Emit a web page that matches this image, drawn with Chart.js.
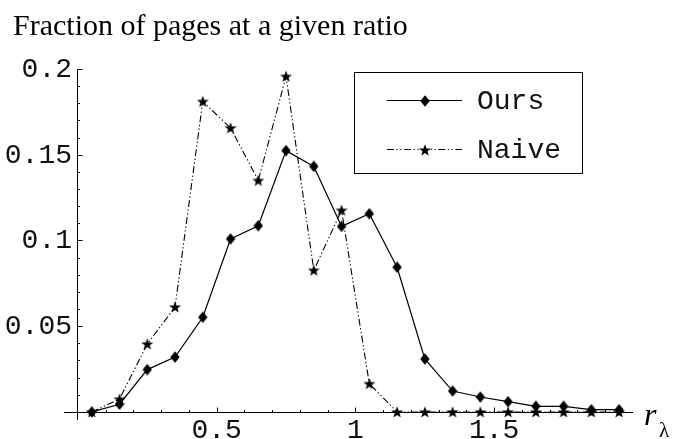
<!DOCTYPE html>
<html>
<head>
<meta charset="utf-8">
<script src="https://cdn.jsdelivr.net/npm/chart.js@4.4.1/dist/chart.umd.min.js"></script>
<style>
  html, body { margin: 0; padding: 0; background: #fff; }
  canvas { display: block; }
</style>
</head>
<body>
<canvas id="chart" width="673" height="439"></canvas>
<script>
// Ratio bins (bin centres) and fraction of pages in each bin
const ratios = [0.05, 0.15, 0.25, 0.35, 0.45, 0.55, 0.65, 0.75, 0.85, 0.95,
                1.05, 1.15, 1.25, 1.35, 1.45, 1.55, 1.65, 1.75, 1.85, 1.95];
const ours   = [0.000, 0.0045, 0.0247, 0.0320, 0.0552, 0.1009, 0.1086, 0.1524, 0.1432, 0.1082,
                0.1156, 0.0844, 0.0309, 0.0122, 0.0087, 0.0060, 0.0033, 0.0033, 0.0013, 0.0013];
const naive  = [0.000, 0.0075, 0.0396, 0.0612, 0.1811, 0.1656, 0.1350, 0.1957, 0.0826, 0.1176,
                0.0165, 0.000, 0.000, 0.000, 0.000, 0.000, 0.000, 0.000, 0.000, 0.000];
const seriesNames = ['Ours', 'Naive'];

// Axis ticks
const xMajorTicks  = [0.5, 1, 1.5];
const xTickLabels  = ['0.5', '1', '1.5'];
const xMinorTicks  = [0.1, 0.2, 0.3, 0.4, 0.6, 0.7, 0.8, 0.9, 1.1, 1.2, 1.3, 1.4, 1.6, 1.7, 1.8, 1.9];
const yMajorTicks  = [0.05, 0.1, 0.15, 0.2];
const yTickLabels  = ['0.05', '0.1', '0.15', '0.2'];
const yMinorTicks  = [0.01, 0.02, 0.03, 0.04, 0.06, 0.07, 0.08, 0.09, 0.11, 0.12, 0.13, 0.14,
                      0.16, 0.17, 0.18, 0.19];

const titleText = 'Fraction of pages at a given ratio';

const MONO = '"Liberation Mono", "Courier New", monospace';
const SERIF = '"Liberation Serif", "Times New Roman", serif';

// Filled diamond marker
function makeDiamond() {
  const c = document.createElement('canvas');
  c.width = 10; c.height = 12;
  const g = c.getContext('2d');
  g.fillStyle = '#000';
  g.beginPath();
  g.moveTo(5, 0.3); g.lineTo(9.7, 6); g.lineTo(5, 11.7); g.lineTo(0.3, 6);
  g.closePath(); g.fill();
  return c;
}
// Filled five-pointed star marker
function makeStar() {
  const c = document.createElement('canvas');
  c.width = 14; c.height = 14;
  const g = c.getContext('2d');
  g.fillStyle = '#000';
  g.beginPath();
  const cx = 7, cy = 7.5, ro = 6.3, ri = 2.6;
  for (let i = 0; i < 10; i++) {
    const r = i % 2 === 0 ? ro : ri;
    const a = -Math.PI / 2 + i * Math.PI / 5;
    const px = cx + r * Math.cos(a), py = cy + r * Math.sin(a);
    if (i === 0) g.moveTo(px, py); else g.lineTo(px, py);
  }
  g.closePath(); g.fill();
  return c;
}
const diamond = makeDiamond();
const star = makeStar();

// Axes crossing at the origin, with inward tick marks
const axesPlugin = {
  id: 'originAxes',
  beforeDatasetsDraw(chart) {
    const { ctx, chartArea: a, scales: { x, y } } = chart;
    const x0 = Math.round(x.getPixelForValue(0)) - 0.5;
    const y0 = Math.round(y.getPixelForValue(0)) + 0.5;
    ctx.save();
    ctx.strokeStyle = '#000';
    ctx.lineWidth = 1;
    ctx.beginPath();
    ctx.moveTo(a.left, y0); ctx.lineTo(a.right, y0);
    ctx.moveTo(x0, a.top); ctx.lineTo(x0, a.bottom);
    xMajorTicks.forEach(v => { const p = Math.round(x.getPixelForValue(v)) + 0.5; ctx.moveTo(p, y0); ctx.lineTo(p, y0 - 5); });
    xMinorTicks.forEach(v => { const p = Math.round(x.getPixelForValue(v)) + 0.5; ctx.moveTo(p, y0); ctx.lineTo(p, y0 - 2.5); });
    yMajorTicks.forEach(v => { const p = Math.round(y.getPixelForValue(v)) + 0.5; ctx.moveTo(x0, p); ctx.lineTo(x0 + 5, p); });
    yMinorTicks.forEach(v => { const p = Math.round(y.getPixelForValue(v)) + 0.5; ctx.moveTo(x0, p); ctx.lineTo(x0 + 2.5, p); });
    ctx.stroke();

    // tick labels
    ctx.fillStyle = '#111';
    ctx.font = '28px ' + MONO;
    ctx.textBaseline = 'alphabetic';
    ctx.textAlign = 'center';
    xMajorTicks.forEach((v, i) => ctx.fillText(xTickLabels[i], x.getPixelForValue(v), 438));
    ctx.textAlign = 'right';
    yMajorTicks.forEach((v, i) => ctx.fillText(yTickLabels[i], x0 - 5.5, y.getPixelForValue(v) + 8));
    ctx.restore();
  },
  afterDraw(chart) {
    const { ctx } = chart;
    ctx.save();
    ctx.fillStyle = '#000';

    // title
    ctx.font = '30px ' + SERIF;
    ctx.textAlign = 'left';
    ctx.textBaseline = 'alphabetic';
    ctx.fillText(titleText, 13, 35);

    // axis name r_λ
    ctx.font = 'italic 32px ' + SERIF;
    ctx.fillText('r', 644, 425);
    ctx.font = '21px ' + SERIF;
    ctx.fillText('λ', 659, 437);

    // legend box
    ctx.strokeStyle = '#000';
    ctx.lineWidth = 1;
    ctx.strokeRect(354.5, 72.5, 228, 101);
    const rows = [100.5, 149.5];
    chart.data.datasets.forEach((ds, i) => {
      const yy = rows[i];
      ctx.save();
      ctx.lineWidth = ds.borderWidth;
      ctx.setLineDash(ds.borderDash || []);
      ctx.beginPath();
      ctx.moveTo(387, yy); ctx.lineTo(462, yy);
      ctx.stroke();
      ctx.restore();
      const img = ds.pointStyle;
      ctx.drawImage(img, Math.round(425 - img.width / 2), Math.round(yy - img.height / 2));
      ctx.fillStyle = '#111';
      ctx.font = '28px ' + MONO;
      ctx.textAlign = 'left';
      ctx.fillText(ds.label, 477, yy + 8);
    });
    ctx.restore();
  }
};

new Chart(document.getElementById('chart'), {
  type: 'line',
  data: {
    datasets: [
      {
        label: seriesNames[0],
        data: ratios.map((r, i) => ({ x: r, y: ours[i] })),
        borderColor: '#000',
        borderWidth: 1.2,
        pointStyle: diamond,
        pointRadius: 5,
        tension: 0,
        fill: false,
        clip: false
      },
      {
        label: seriesNames[1],
        data: ratios.map((r, i) => ({ x: r, y: naive[i] })),
        borderColor: '#000',
        borderWidth: 1.1,
        borderDash: [7, 2.5, 1.3, 2.5, 1.3, 2.5],
        pointStyle: star,
        pointRadius: 5,
        tension: 0,
        fill: false,
        clip: false
      }
    ]
  },
  options: {
    responsive: false,
    devicePixelRatio: 1,
    animation: false,
    layout: { padding: { left: 64, right: 40, top: 69, bottom: 19 } },
    scales: {
      x: { type: 'linear', min: -0.05, max: 2.0, display: false },
      y: { type: 'linear', min: -0.0047, max: 0.2, display: false }
    },
    plugins: {
      legend: { display: false },
      tooltip: { enabled: false },
      title: { display: false }
    }
  },
  plugins: [axesPlugin]
});
</script>
</body>
</html>
